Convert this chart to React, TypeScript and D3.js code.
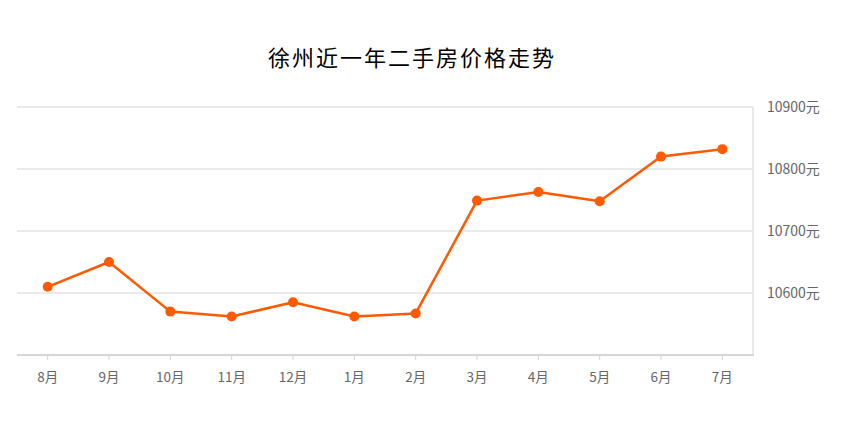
import React from "react";
import * as d3 from "d3";

const TITLE = "徐州近一年二手房价格走势";
const months = ["8月", "9月", "10月", "11月", "12月", "1月", "2月", "3月", "4月", "5月", "6月", "7月"];
const prices = [10610, 10650, 10570, 10562, 10585, 10562, 10567, 10749, 10763, 10748, 10820, 10832];
const yTicks = [10600, 10700, 10800, 10900];
const yDomain = [10500, 10900];

const W = 849;
const H = 423;
const M = { left: 17, right: 96, top: 107, bottom: 68 };

export default function App() {
  const x = d3
    .scaleBand<string>()
    .domain(months)
    .range([M.left, W - M.right])
    .paddingInner(0)
    .paddingOuter(0);
  const y = d3.scaleLinear().domain(yDomain).range([H - M.bottom, M.top]);
  const cx = (m: string) => (x(m) as number) + x.bandwidth() / 2;
  const pts = months.map((m, i) => [cx(m), y(prices[i])] as [number, number]);
  const line = d3.line()(pts) as string;
  const font = "'Microsoft YaHei', 'Noto Sans CJK SC', sans-serif";
  const x0 = M.left;
  const x1 = W - M.right;
  const yb = y(yDomain[0]);

  return (
    <svg
      width={W}
      height={H}
      style={{ position: "absolute", left: 0, top: 0, background: "#fff" }}
    >
      <text
        x={412}
        y={66}
        textAnchor="middle"
        fontSize={22}
        letterSpacing={2}
        fontFamily="'Noto Sans CJK SC', sans-serif"
        fill="#000"
      >
        {TITLE}
      </text>
      {yTicks.map((t) => (
        <g key={t}>
          <line x1={x0} x2={x1} y1={y(t)} y2={y(t)} stroke="#e3e3e3" strokeWidth={1.5} />
          <text
            x={767}
            y={y(t)}
            dy="0.35em"
            fontSize={14}
            fontFamily={font}
            fill="#666"
          >
            {t}元
          </text>
        </g>
      ))}
      <line x1={x1} x2={x1} y1={y(yDomain[1])} y2={yb} stroke="#e3e3e3" strokeWidth={1.5} />
      <line x1={x0} x2={x1 + 1} y1={yb} y2={yb} stroke="#d6d6d6" strokeWidth={2} />
      {months.map((m) => (
        <g key={m}>
          <line x1={cx(m)} x2={cx(m)} y1={yb} y2={yb + 5} stroke="#d6d6d6" strokeWidth={1} />
          <text
            x={cx(m)}
            y={yb + 22}
            dy="0.35em"
            textAnchor="middle"
            fontSize={13.5}
            fontFamily={font}
            fill="#666"
          >
            {m}
          </text>
        </g>
      ))}
      <path d={line} fill="none" stroke="#ff5a00" strokeWidth={2.5} strokeLinejoin="round" />
      {pts.map((p, i) => (
        <circle key={i} cx={p[0]} cy={p[1]} r={5} fill="#ff5a00" />
      ))}
    </svg>
  );
}
